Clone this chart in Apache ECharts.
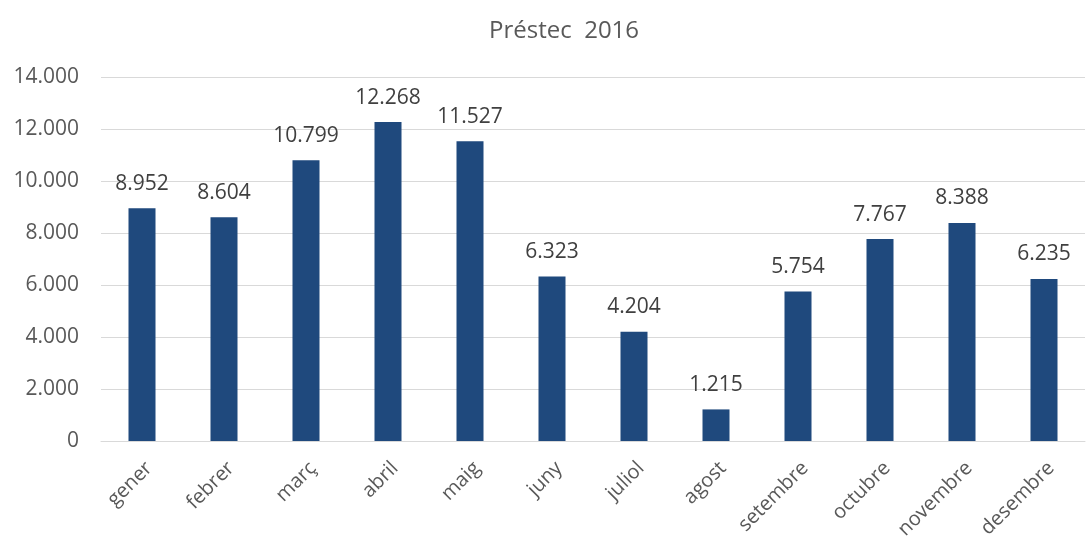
<!DOCTYPE html>
<html>
<head>
<meta charset="utf-8">
<script src="https://cdn.jsdelivr.net/npm/echarts@6/dist/echarts.min.js"></script>
<style>
html, body { margin: 0; padding: 0; background: #fff; }
#main { width: 1086px; height: 542px; }
</style>
</head>
<body>
<div id="main"></div>
<script>
var months = ['gener', 'febrer', 'març', 'abril', 'maig', 'juny',
    'juliol', 'agost', 'setembre', 'octubre', 'novembre', 'desembre'];
var prestec = [8952, 8604, 10799, 12268, 11527, 6323, 4204, 1215, 5754, 7767, 8388, 6235];

function fmt(v) {
    return String(v).replace(/\B(?=(\d{3})+(?!\d))/g, '.');
}

var font = '"Open Sans", "Liberation Sans", sans-serif';

option = {
    animation: false,
    title: {
        text: 'Préstec  2016',
        left: 484,
        top: 14,
        textStyle: { color: '#595959', fontSize: 24, fontWeight: 'normal', fontFamily: font }
    },
    grid: { left: 101, right: 1, top: 77, bottom: 101 },
    xAxis: {
        type: 'category',
        data: months,
        axisTick: { show: false },
        axisLine: { lineStyle: { color: '#d9d9d9', width: 1 } },
        axisLabel: {
            rotate: 45, interval: 0, margin: 17, verticalAlign: 'top',
            color: '#595959', fontSize: 20, fontFamily: font
        }
    },
    yAxis: {
        type: 'value',
        min: 0, max: 14000, interval: 2000,
        axisLine: { show: false },
        axisTick: { show: false },
        splitLine: { lineStyle: { color: '#d9d9d9', width: 1 } },
        axisLabel: {
            margin: 22, color: '#595959', fontSize: 21, fontFamily: font,
            formatter: fmt
        }
    },
    series: [{
        type: 'bar',
        data: prestec,
        barWidth: 27,
        itemStyle: { color: '#1f497d' },
        label: {
            show: true, position: 'top', distance: 14,
            color: '#404040', fontSize: 21, fontFamily: font,
            formatter: function (p) { return fmt(p.value); }
        }
    }]
};
var myChart = echarts.init(document.getElementById('main'));
myChart.setOption(option);
</script>
</body>
</html>
